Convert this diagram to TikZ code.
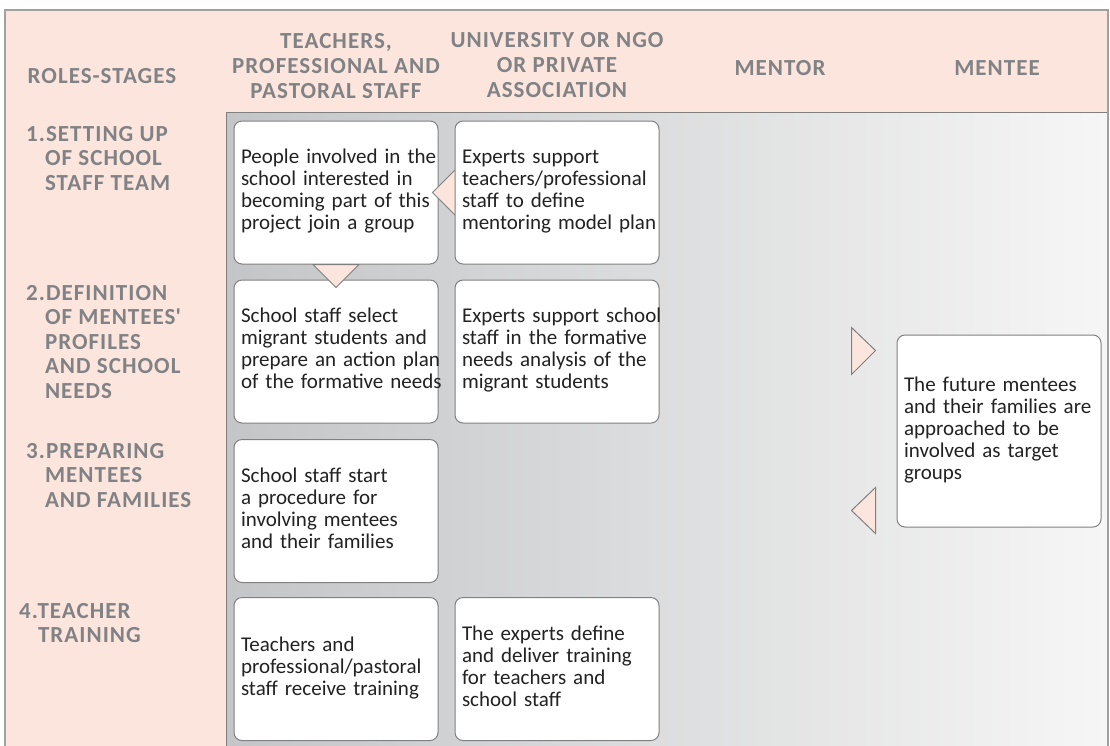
\documentclass[tikz,border=0pt]{standalone}
\usepackage{fontspec}
\setmainfont{Carlito}
\newfontfamily\hdrfont{Carlito}[LetterSpace=4.5]
\usetikzlibrary{calc}

\definecolor{pinkbg}{HTML}{FCE5DC}
\definecolor{hdrtext}{HTML}{808285}
\definecolor{framec}{HTML}{A0A0A0}
\definecolor{boxline}{HTML}{808080}
\definecolor{bodytext}{HTML}{222222}
\definecolor{grayleft}{HTML}{C4C5C7}
\definecolor{grayright}{HTML}{F6F6F6}

% one left-aligned block of text lines
\newcommand{\lines}[1]{\begin{tabular}{@{}l@{}}#1\end{tabular}}

\tikzset{
  hdr/.style={inner sep=0pt, text=hdrtext, align=center,
    font=\hdrfont\bfseries\fontsize{23}{25}\selectfont},
  stagelbl/.style={inner sep=0pt, text=hdrtext, align=left, anchor=north west,
    font=\hdrfont\bfseries\fontsize{23}{24.5}\selectfont},
  stepbox/.style={draw=boxline, line width=1pt, fill=white, rounded corners=8pt,
    text width=190pt, inner xsep=7pt, inner ysep=0pt, align=left,
    minimum height=143pt, text=bodytext,
    font=\fontsize{21}{22}\selectfont},
  tri/.style={draw=boxline, line width=1pt, fill=pinkbg, line join=miter}
}

\begin{document}
\begin{tikzpicture}[x=1pt,y=-1pt]
\useasboundingbox (0,0) rectangle (1110,745);
\clip (0,0) rectangle (1110,745);

% background: pink frame and shaded working area
\fill[pinkbg] (5,10) rectangle (1108,760);
\shade[left color=grayleft, right color=grayright] (226,112) rectangle (1108,760);
\draw[boxline, line width=1pt] (226,760) -- (226,112) -- (1108,112);
\draw[framec, line width=1.2pt] (5,760) -- (5,10) -- (1108,10) -- (1108,760);

% column headings
\node[hdr, anchor=base] (hRoles) at (102,83) {ROLES-STAGES};
\node[hdr, anchor=north] (hTeach) at (336,33) {TEACHERS,\\PROFESSIONAL AND\\PASTORAL STAFF};
\node[hdr, anchor=north] (hUni) at (557,32) {UNIVERSITY OR NGO\\OR PRIVATE\\ASSOCIATION};
\node[hdr, anchor=base] (hMentor) at (780,75) {MENTOR};
\node[hdr, anchor=base] (hMentee) at (997,75) {MENTEE};

% stage labels
\node[stagelbl] (s1) at (26,126) {1.SETTING UP\\\phantom{1.}OF SCHOOL\\\phantom{1.}STAFF TEAM};
\node[stagelbl] (s2) at (26,285) {2.DEFINITION\\\phantom{2.}OF MENTEES\textquotesingle\\\phantom{2.}PROFILES\\\phantom{2.}AND SCHOOL\\\phantom{2.}NEEDS};
\node[stagelbl] (s3) at (26,443) {3.PREPARING\\\phantom{3.}MENTEES\\\phantom{3.}AND FAMILIES};
\node[stagelbl] (s4) at (19,603) {4.TEACHER\\\phantom{4.}TRAINING};

% stage 1
\node[stepbox] (a) at (336,192.5) {\lines{People involved in the\\school interested in\\becoming part of this\\project join a group}};
\draw[tri] ([xshift=-6pt]a.east) -- ($(a.east)+(17,-23)$) -- ($(a.east)+(17,23)$) -- cycle;
\node[stepbox] (b) at (557,192.5) {\lines{Experts support\\teachers/professional\\staff to define\\mentoring model plan}};

% stage 2
\node[stepbox] (c) at (336,351.5) {\lines{School staff select\\migrant students and\\prepare an action plan\\of the formative needs}};
\draw[tri] ($(a.south)+(-23,0)$) -- ($(a.south)+(23,0)$) -- ($(a.south)+(0,23)$) -- cycle;
\node[stepbox] (d) at (557,351.5) {\lines{Experts support school\\staff in the formative\\needs analysis of the\\migrant students}};

% stage 3
\node[stepbox] (e) at (336,511) {\lines{School staff start\\a procedure for\\involving mentees\\and their families}};

% stage 4
\node[stepbox] (f) at (336,669) {\lines{Teachers and\\professional/pastoral\\staff receive training}};
\node[stepbox] (g) at (557,669) {\lines{The experts define\\and deliver training\\for teachers and\\school staff}};

% mentee column
\node[stepbox, minimum height=192pt] (m) at (999,431) {\lines{The future mentees\\and their families are\\approached to be\\involved as target\\groups}};
\draw[tri] ($(m.north west)+(-45,-7)$) -- ($(m.north west)+(-21,16)$) -- ($(m.north west)+(-45,40)$) -- cycle;
\draw[tri] ($(m.south west)+(-21,-40)$) -- ($(m.south west)+(-45,-17)$) -- ($(m.south west)+(-21,6)$) -- cycle;
\end{tikzpicture}
\end{document}
